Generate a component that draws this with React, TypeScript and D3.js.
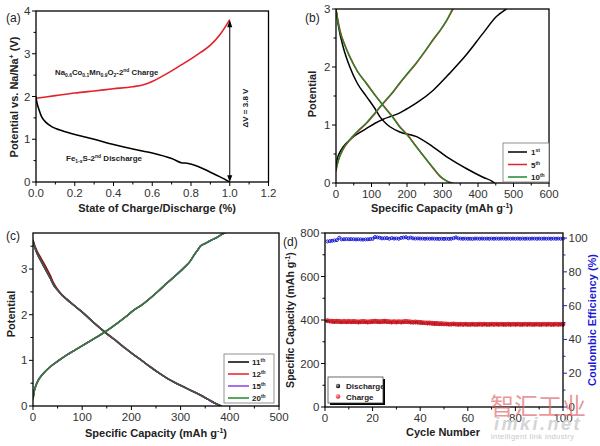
import React from "react";
import * as d3 from "d3";

// ---------- Panel (a) ----------
const aChargeX = [0, 0.05, 0.1, 0.2, 0.3, 0.4, 0.5, 0.55, 0.6, 0.65, 0.7, 0.75, 0.8, 0.85, 0.9, 0.95, 1.0];
const aChargeY = [1.96, 1.99, 2.02, 2.08, 2.13, 2.18, 2.23, 2.27, 2.35, 2.47, 2.6, 2.74, 2.88, 3.03, 3.2, 3.45, 3.8];
const aDisX = [0, 0.005, 0.015, 0.03, 0.05, 0.083, 0.12, 0.186, 0.3, 0.4, 0.5, 0.6, 0.7, 0.75, 0.78, 0.83, 0.9, 0.95, 1.0];
const aDisY = [2.0, 1.85, 1.7, 1.52, 1.4, 1.29, 1.22, 1.13, 1.0, 0.875, 0.77, 0.68, 0.55, 0.45, 0.44, 0.375, 0.23, 0.12, 0.0];
const aXTicks = [0, 0.2, 0.4, 0.6, 0.8, 1.0, 1.2];
const aYTicks = [0, 1, 2, 3, 4];

// ---------- Panel (b) ----------
const b1DisX = [0, 7, 20, 39, 60, 86, 110, 124, 140, 152, 180, 227, 274, 320, 367, 414, 440, 447];
const b1DisY = [3.0, 2.7, 2.35, 2.0, 1.72, 1.49, 1.28, 1.14, 1.03, 0.97, 0.88, 0.8, 0.62, 0.42, 0.25, 0.1, 0.03, 0];
const b1ChX = [0, 3, 10, 20, 35, 49, 70, 86, 110, 133, 160, 180, 200, 227, 274, 320, 367, 414, 452, 480];
const b1ChY = [0.25, 0.4, 0.52, 0.62, 0.72, 0.8, 0.88, 0.94, 1.03, 1.1, 1.16, 1.21, 1.28, 1.38, 1.6, 1.89, 2.21, 2.58, 2.87, 3.0];
const b5DisX = [0, 5, 11, 25, 39, 60, 86, 110, 133, 160, 180, 200, 227, 250, 274, 295, 310, 322, 330];
const b5DisY = [3.0, 2.82, 2.64, 2.38, 2.18, 1.93, 1.72, 1.52, 1.34, 1.14, 0.97, 0.84, 0.62, 0.44, 0.25, 0.1, 0.04, 0.01, 0];
const b5ChX = [0, 3, 7, 20, 39, 60, 86, 110, 133, 160, 180, 200, 227, 250, 274, 295, 311, 330];
const b5ChY = [0.2, 0.3, 0.39, 0.58, 0.74, 0.88, 1.03, 1.2, 1.37, 1.56, 1.72, 1.87, 2.07, 2.26, 2.47, 2.64, 2.79, 3.0];
const b10DisX = [0, 5, 11, 25, 39, 60, 86, 110, 133, 160, 180, 200, 227, 250, 274, 295, 308, 320, 327];
const b10DisY = [2.98, 2.8, 2.62, 2.37, 2.17, 1.93, 1.71, 1.51, 1.33, 1.13, 0.96, 0.83, 0.62, 0.44, 0.26, 0.11, 0.05, 0.01, 0];
const b10ChX = [0, 3, 7, 20, 39, 60, 86, 110, 133, 160, 180, 200, 227, 250, 274, 295, 311, 328];
const b10ChY = [0.22, 0.31, 0.4, 0.59, 0.75, 0.89, 1.04, 1.21, 1.38, 1.57, 1.73, 1.88, 2.08, 2.27, 2.48, 2.65, 2.8, 3.0];
const bXTicks = [0, 100, 200, 300, 400, 500, 600];
const bYTicks = [0, 1, 2, 3];
const bLegend = ["1", "5", "10"];
const bLegendSup = ["st", "th", "th"];

// ---------- Panel (c) ----------
const cDisX = [0, 3, 8, 15, 25, 35, 42, 49, 58, 69, 86, 103, 120, 137, 154, 171, 188, 205, 222, 238, 255, 272, 289, 306, 323, 340, 355, 368, 378, 383];
const cDisY = [3.62, 3.5, 3.35, 3.2, 3.0, 2.8, 2.65, 2.55, 2.44, 2.33, 2.18, 2.03, 1.86, 1.7, 1.55, 1.41, 1.26, 1.12, 0.99, 0.86, 0.73, 0.61, 0.51, 0.42, 0.33, 0.24, 0.15, 0.07, 0.02, 0];
const cDisY12 = [3.64, 3.53, 3.4, 3.26, 3.07, 2.86, 2.69, 2.57, 2.45, 2.34, 2.18, 2.03, 1.86, 1.7, 1.55, 1.41, 1.26, 1.12, 0.99, 0.86, 0.73, 0.61, 0.51, 0.42, 0.33, 0.24, 0.15, 0.07, 0.02, 0];
const cChX = [0, 2, 5, 10, 20, 35, 50, 69, 86, 103, 120, 137, 154, 171, 188, 205, 222, 238, 255, 272, 289, 306, 320, 327, 335, 340, 350, 360, 375, 387, 395];
const cChY = [0.15, 0.3, 0.42, 0.55, 0.7, 0.86, 0.98, 1.12, 1.23, 1.34, 1.45, 1.56, 1.68, 1.81, 1.95, 2.1, 2.22, 2.36, 2.52, 2.69, 2.85, 3.02, 3.18, 3.3, 3.42, 3.5, 3.56, 3.62, 3.7, 3.78, 3.82];
const cXTicks = [0, 100, 200, 300, 400, 500];
const cYTicks = [0, 1, 2, 3];
const cLegend = ["11", "12", "15", "20"];

// ---------- Panel (d) ----------
const dCharge = [
  397, 395, 394, 393, 394, 393, 392, 393, 392, 393,
  392, 393, 392, 391, 392, 393, 392, 391, 392, 393,
  394, 393, 392, 393, 394, 393, 392, 391, 392, 391,
  392, 391, 392, 393, 392, 391, 390, 391, 390, 389,
  388, 387, 386, 386, 385, 384, 384, 383, 383, 382,
  382, 381, 381, 382, 381, 380, 381, 380, 381, 380,
  380, 381, 380, 380, 381, 380, 381, 380, 380, 381,
  380, 381, 380, 381, 380, 380, 381, 380, 381, 380,
  381, 380, 380, 381, 380, 381, 380, 380, 381, 380,
  380, 381, 380, 381, 380, 380, 381, 380, 381, 380,
];
const dDischarge = [
  395, 393, 392, 391, 392, 391, 390, 391, 390, 391,
  390, 391, 390, 389, 390, 391, 390, 389, 390, 391,
  392, 391, 390, 391, 392, 391, 390, 389, 390, 389,
  390, 389, 390, 391, 390, 389, 388, 389, 388, 387,
  386, 385, 384, 384, 383, 382, 382, 381, 381, 380,
  380, 379, 379, 380, 379, 378, 379, 378, 379, 378,
  378, 379, 378, 378, 379, 378, 379, 378, 378, 379,
  378, 379, 378, 379, 378, 378, 379, 378, 379, 378,
  379, 378, 378, 379, 378, 379, 378, 378, 379, 378,
  378, 379, 378, 379, 378, 378, 379, 378, 379, 378,
];
const dCE = [
  98.0, 98.2, 98.4, 98.6, 98.8, 100.2, 99.2, 99.3, 99.4, 99.3,
  99.4, 99.3, 99.2, 99.3, 99.2, 99.1, 99.2, 99.3, 99.4, 99.5,
  100.6, 100.4, 100.2, 99.8, 99.9, 100.0, 99.6, 100.0, 99.7, 99.8,
  99.6, 100.1, 100.3, 100.5, 99.9, 100.3, 99.8, 99.7, 99.8, 99.7,
  99.7, 99.6, 99.7, 99.6, 99.7, 99.6, 99.6, 99.5, 99.6, 99.5,
  99.6, 99.5, 99.6, 99.9, 100.4, 99.8, 99.7, 99.6, 99.7, 99.6,
  99.6, 99.5, 99.7, 99.7, 99.6, 99.7, 99.6, 99.7, 99.6, 99.7,
  99.6, 99.7, 99.6, 99.7, 99.7, 99.6, 99.7, 99.6, 99.7, 99.6,
  99.7, 99.6, 99.7, 99.6, 99.7, 99.6, 99.7, 99.7, 99.6, 99.7,
  99.6, 99.7, 99.6, 99.7, 99.6, 99.7, 99.6, 99.7, 99.6, 99.7,
];
const dXTicks = [0, 20, 40, 60, 80, 100];
const dYTicks = [0, 200, 400, 600, 800];
const dY2Ticks = [0, 20, 40, 60, 80, 100];
const dLegend = ["Discharge", "Charge"];

const FONT = "Arial, 'Liberation Sans', sans-serif";
const TICKC = "#333";
const RED = "#e4202a";
const GREEN = "#1f8a2a";
const PURPLE = "#8a3cf0";
const BLUE = "#1a1ad6";

type Sc = d3.ScaleLinear<number, number>;

function XAxis({ x, y0, ticks, minor, fmt }: { x: Sc; y0: number; ticks: number[]; minor: number[]; fmt: (v: number) => string }) {
  return (
    <g>
      {minor.map((t, i) => (
        <line key={"m" + i} x1={x(t)} x2={x(t)} y1={y0} y2={y0 + 2.5} stroke="#000" strokeWidth={1} />
      ))}
      {ticks.map((t, i) => (
        <g key={i}>
          <line x1={x(t)} x2={x(t)} y1={y0} y2={y0 + 4} stroke="#000" strokeWidth={1} />
          <text x={x(t)} y={y0 + 15} textAnchor="middle" fontSize={11.5} fill={TICKC} fontFamily={FONT}>{fmt(t)}</text>
        </g>
      ))}
    </g>
  );
}

function YAxis({ y, x0, ticks, minor, fmt, side = "left", color = "#000", labelColor = TICKC }: { y: Sc; x0: number; ticks: number[]; minor: number[]; fmt: (v: number) => string; side?: string; color?: string; labelColor?: string }) {
  const s = side === "left" ? -1 : 1;
  return (
    <g>
      {minor.map((t, i) => (
        <line key={"m" + i} x1={x0} x2={x0 + s * 2.5} y1={y(t)} y2={y(t)} stroke={color} strokeWidth={1} />
      ))}
      {ticks.map((t, i) => (
        <g key={i}>
          <line x1={x0} x2={x0 + s * 4} y1={y(t)} y2={y(t)} stroke={color} strokeWidth={1} />
          <text x={x0 + s * 5.5} y={y(t) + 4} textAnchor={side === "left" ? "end" : "start"} fontSize={11.5} fill={labelColor} fontFamily={FONT}>{fmt(t)}</text>
        </g>
      ))}
    </g>
  );
}

function Box({ l, r, t, b }: { l: number; r: number; t: number; b: number }) {
  return <rect x={l} y={t} width={r - l} height={b - t} fill="none" stroke="#000" strokeWidth={1.3} />;
}

function curve(xs: number[], ys: number[], x: Sc, y: Sc) {
  const pts = xs.map((v, i) => [v, ys[i]] as [number, number]);
  return d3.line<[number, number]>().x((d) => x(d[0])).y((d) => y(d[1])).curve(d3.curveMonotoneX)(pts) || "";
}
function curveY(xs: number[], ys: number[], x: Sc, y: Sc) {
  const pts = xs.map((v, i) => [v, ys[i]] as [number, number]);
  return d3.line<[number, number]>().x((d) => x(d[0])).y((d) => y(d[1])).curve(d3.curveCatmullRom.alpha(0.5))(pts) || "";
}

function range(a: number, b: number, s: number) {
  return d3.range(a, b + s / 2, s);
}

export default function App() {
  const ax = d3.scaleLinear().domain([0, 1.2]).range([36, 268.5]);
  const ay = d3.scaleLinear().domain([0, 4]).range([182, 11]);
  const bx = d3.scaleLinear().domain([0, 600]).range([336, 549]);
  const by = d3.scaleLinear().domain([0, 3]).range([183, 9]);
  const cx = d3.scaleLinear().domain([0, 500]).range([33, 279]);
  const cy = d3.scaleLinear().domain([0, 3.79]).range([406, 233]);
  const dx = d3.scaleLinear().domain([0, 100]).range([325, 563]);
  const dy = d3.scaleLinear().domain([0, 800]).range([407, 233]);
  const dy2 = d3.scaleLinear().domain([0, 103]).range([407, 233]);

  const f1 = (v: number) => v.toFixed(1);
  const f0 = (v: number) => String(v);

  const cycles = dCharge.map((_, i) => i + 1);

  return (
    <svg width={600} height={446} style={{ position: "absolute", left: 0, top: 0, background: "#fff" }} fontFamily={FONT}>
      <rect x={0} y={0} width={600} height={446} fill="#fff" />
      <defs>
        <clipPath id="clipa"><rect x={36} y={11} width={232.5} height={171} /></clipPath>
        <clipPath id="clipb"><rect x={336} y={9} width={213} height={174} /></clipPath>
        <clipPath id="clipc"><rect x={33} y={233} width={246} height={173} /></clipPath>
        <radialGradient id="ballK" cx="35%" cy="35%" r="65%">
          <stop offset="0%" stopColor="#aaa" />
          <stop offset="100%" stopColor="#000" />
        </radialGradient>
        <radialGradient id="ballR" cx="35%" cy="35%" r="65%">
          <stop offset="0%" stopColor="#ffb0b0" />
          <stop offset="100%" stopColor="#e02020" />
        </radialGradient>
      </defs>

      {/* ================= Panel (a) ================= */}
      <g clipPath="url(#clipa)">
        <path d={curve(aChargeX, aChargeY, ax, ay)} fill="none" stroke={RED} strokeWidth={1.6} />
        <path d={curveY(aDisX, aDisY, ax, ay)} fill="none" stroke="#000" strokeWidth={1.6} />
      </g>
      <line x1={ax(1)} x2={ax(1)} y1={ay(0.05)} y2={ay(3.75)} stroke="#000" strokeWidth={1} />
      <path d={`M${ax(1) - 2.5},${ay(3.62)} L${ax(1)},${ay(3.79)} L${ax(1) + 2.5},${ay(3.62)} Z`} fill="#000" />
      <path d={`M${ax(1) - 2.5},${ay(0.16)} L${ax(1)},${ay(0)} L${ax(1) + 2.5},${ay(0.16)} Z`} fill="#000" />
      <text transform="translate(248,108) rotate(-90)" textAnchor="middle" fontSize={8} fontWeight="bold" fill="#222">ΔV = 3.8 V</text>
      <text x={55} y={75} fontSize={7.8} fontWeight="bold" fill="#222">
        Na<tspan fontSize={5} dy={2}>0.6</tspan><tspan dy={-2}>Co</tspan><tspan fontSize={5} dy={2}>0.1</tspan><tspan dy={-2}>Mn</tspan><tspan fontSize={5} dy={2}>0.9</tspan><tspan dy={-2}>O</tspan><tspan fontSize={5} dy={2}>2</tspan><tspan dy={-2}>-2</tspan><tspan fontSize={5} dy={-3}>nd</tspan><tspan dy={3}> Charge</tspan>
      </text>
      <text x={66} y={161} fontSize={8} fontWeight="bold" fill="#222">
        Fe<tspan fontSize={5} dy={2}>1-x</tspan><tspan dy={-2}>S-2</tspan><tspan fontSize={5} dy={-3}>nd</tspan><tspan dy={3}> Discharge</tspan>
      </text>
      <Box l={36} r={268.5} t={11} b={182} />
      <XAxis x={ax} y0={182} ticks={aXTicks} minor={range(0.1, 1.1, 0.2)} fmt={f1} />
      <YAxis y={ay} x0={36} ticks={aYTicks} minor={range(0.5, 3.5, 1)} fmt={f0} />
      <text x={157} y={212} textAnchor="middle" fontSize={11} fontWeight="bold" fill="#222">State of Charge/Discharge (%)</text>
      <text transform="translate(18,97) rotate(-90)" textAnchor="middle" fontSize={11} fontWeight="bold" fill="#222">
        Potential vs. Na/Na<tspan fontSize={7} dy={-4}>+</tspan><tspan dy={4}> (V)</tspan>
      </text>
      <text x={6} y={22} fontSize={12} fill="#222">(a)</text>

      {/* ================= Panel (b) ================= */}
      <g clipPath="url(#clipb)">
        <path d={curve(b1DisX, b1DisY, bx, by)} fill="none" stroke="#000" strokeWidth={1.5} />
        <path d={curve(b1ChX, b1ChY, bx, by)} fill="none" stroke="#000" strokeWidth={1.5} />
        <path d={curve(b5DisX, b5DisY, bx, by)} fill="none" stroke={RED} strokeWidth={1.5} />
        <path d={curve(b5ChX, b5ChY, bx, by)} fill="none" stroke={RED} strokeWidth={1.5} />
        <path d={curve(b10DisX, b10DisY, bx, by)} fill="none" stroke={GREEN} strokeWidth={1.4} />
        <path d={curve(b10ChX, b10ChY, bx, by)} fill="none" stroke={GREEN} strokeWidth={1.4} />
      </g>
      <Box l={336} r={549} t={9} b={183} />
      <XAxis x={bx} y0={183} ticks={bXTicks} minor={range(50, 550, 100)} fmt={f0} />
      <YAxis y={by} x0={336} ticks={bYTicks} minor={range(0.5, 2.5, 1)} fmt={f0} />
      <rect x={503} y={143} width={46} height={39} fill="#fff" stroke="#777" strokeWidth={0.8} />
      {bLegend.map((s, i) => (
        <g key={i}>
          <line x1={508} x2={527} y1={152 + i * 12.5} y2={152 + i * 12.5} stroke={["#000", RED, GREEN][i]} strokeWidth={1.5} />
          <text x={531} y={155 + i * 12.5} fontSize={8} fontWeight="bold" fill="#222">
            {s}<tspan fontSize={5} dy={-3}>{bLegendSup[i]}</tspan>
          </text>
        </g>
      ))}
      <text x={442} y={212} textAnchor="middle" fontSize={11} fontWeight="bold" fill="#222">
        Specific Capacity (mAh g<tspan fontSize={7} dy={-4}>-1</tspan><tspan dy={4}>)</tspan>
      </text>
      <text transform="translate(316,94) rotate(-90)" textAnchor="middle" fontSize={11} fontWeight="bold" fill="#222">Potential</text>
      <text x={305} y={22} fontSize={12} fill="#222">(b)</text>

      {/* ================= Panel (c) ================= */}
      <g clipPath="url(#clipc)">
        <path d={curve(cDisX, cDisY, cx, cy)} fill="none" stroke="#000" strokeWidth={1.6} />
        <path d={curve(cChX, cChY, cx, cy)} fill="none" stroke="#000" strokeWidth={1.6} />
        <path d={curve(cDisX, cDisY12, cx, cy)} fill="none" stroke="#8a1010" strokeWidth={1.6} />
        <path d={curve(cChX, cChY, cx, cy)} fill="none" stroke={RED} strokeWidth={1.5} />
        <path d={curve(cDisX, cDisY, cx, cy)} fill="none" stroke={PURPLE} strokeWidth={1.5} />
        <path d={curve(cChX, cChY, cx, cy)} fill="none" stroke={PURPLE} strokeWidth={1.5} />
        <path d={curve(cDisX, cDisY, cx, cy)} fill="none" stroke="#3a5a2a" strokeWidth={1.4} />
        <path d={curve(cChX, cChY, cx, cy)} fill="none" stroke={GREEN} strokeWidth={1.4} />
      </g>
      <Box l={33} r={279} t={233} b={406} />
      <XAxis x={cx} y0={406} ticks={cXTicks} minor={range(50, 450, 100)} fmt={f0} />
      <YAxis y={cy} x0={33} ticks={cYTicks} minor={range(0.5, 3.5, 1)} fmt={f0} />
      <rect x={224} y={354} width={50} height={49} fill="#fff" stroke="#777" strokeWidth={0.8} />
      {cLegend.map((s, i) => (
        <g key={i}>
          <line x1={228} x2={249} y1={362 + i * 12} y2={362 + i * 12} stroke={["#000", RED, PURPLE, GREEN][i]} strokeWidth={1.5} />
          <text x={252} y={365 + i * 12} fontSize={8} fontWeight="bold" fill="#222">
            {s}<tspan fontSize={5} dy={-3}>th</tspan>
          </text>
        </g>
      ))}
      <text x={156} y={437} textAnchor="middle" fontSize={11} fontWeight="bold" fill="#222">
        Specific Capacity (mAh g<tspan fontSize={7} dy={-4}>-1</tspan><tspan dy={4}>)</tspan>
      </text>
      <text transform="translate(15,314) rotate(-90)" textAnchor="middle" fontSize={11} fontWeight="bold" fill="#222">Potential</text>
      <text x={6} y={240} fontSize={12} fill="#222">(c)</text>

      {/* ================= Panel (d) ================= */}
      <g>
        {cycles.map((c, i) => (
          <circle key={"k" + i} cx={dx(c)} cy={dy(dDischarge[i])} r={1.8} fill="#222" />
        ))}
        {cycles.map((c, i) => (
          <circle key={"r" + i} cx={dx(c)} cy={dy(dCharge[i])} r={1.9} fill="none" stroke={RED} strokeWidth={1.1} />
        ))}
        <path d={d3.line<number>().x((_, i) => dx(cycles[i])).y((v) => dy2(v))(dCE) || ""} fill="none" stroke={BLUE} strokeWidth={0.8} />
        {cycles.map((c, i) => (
          <circle key={"b" + i} cx={dx(c)} cy={dy2(dCE[i])} r={1.5} fill="none" stroke={BLUE} strokeWidth={1} />
        ))}
      </g>
      <Box l={325} r={563} t={233} b={407} />
      <XAxis x={dx} y0={407} ticks={dXTicks} minor={range(10, 90, 20)} fmt={f0} />
      <YAxis y={dy} x0={325} ticks={dYTicks} minor={range(100, 700, 200)} fmt={f0} />
      <YAxis y={dy2} x0={563} ticks={dY2Ticks} minor={range(10, 90, 20)} fmt={f0} side="right" color={BLUE} labelColor="#333" />
      <rect x={330} y={379} width={55} height={26} fill="#000" />
      <rect x={328} y={377} width={55} height={26} fill="#fff" stroke="#444" strokeWidth={0.8} />
      {dLegend.map((s, i) => (
        <g key={i}>
          <circle cx={338} cy={386 + i * 10.5} r={2.2} fill={i === 0 ? "url(#ballK)" : "url(#ballR)"} />
          <text x={346} y={389 + i * 10.5} fontSize={8} fontWeight="bold" fill="#222">{s}</text>
        </g>
      ))}
      <text x={443} y={436} textAnchor="middle" fontSize={11} fontWeight="bold" fill="#222">Cycle Number</text>
      <text transform="translate(294,320) rotate(-90)" textAnchor="middle" fontSize={10.5} fontWeight="bold" fill="#222">
        Specific Capacity (mAh g<tspan fontSize={7} dy={-4}>-1</tspan><tspan dy={4}>)</tspan>
      </text>
      <text transform="translate(596,320) rotate(-90)" textAnchor="middle" fontSize={11} fontWeight="bold" fill={BLUE}>Coulombic Efficiency (%)</text>
      <text x={283} y={246} fontSize={12} fill="#222">(d)</text>

      {/* watermark */}
      <text x={490} y={415} fontSize={24} fill="#e06a6a" fillOpacity={0.7} fontFamily="'Noto Sans CJK SC', sans-serif">智汇工业</text>
      <text x={494} y={430} fontSize={18} fontStyle="italic" fontWeight="bold" fill="#d4d4d4" letterSpacing={2.5}>imki.net</text>
      <text x={491} y={439} fontSize={7.5} fill="#c8c8c8" letterSpacing={0.4}>intelligent link industry</text>
    </svg>
  );
}
